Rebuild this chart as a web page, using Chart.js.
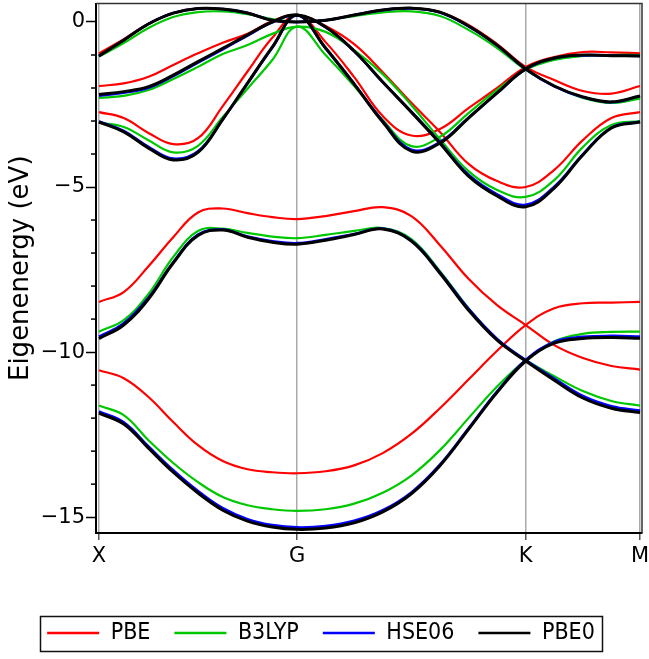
<!DOCTYPE html>
<html>
<head>
<meta charset="utf-8">
<script src="https://cdn.jsdelivr.net/npm/chart.js@4.4.1/dist/chart.umd.min.js"></script>
<style>
  html, body { margin: 0; padding: 0; background: #fff; }
</style>
</head>
<body>
<canvas id="bands" width="649" height="659"></canvas>
<script>
// k-path X - G - K - M (path length units)
const kpath = [0, 0.125, 0.25, 0.375, 0.5, 0.625, 0.75, 0.875, 1,
  1.1443, 1.2887, 1.433, 1.5774, 1.7217, 1.866, 2.0104, 2.1547,
  2.299, 2.4434, 2.5877, 2.7321];
const symPoints = [0, 1, 2.1547, 2.7321];
const symLabels = ['X', 'G', 'K', 'M'];
const yTicks = [-15, -10, -5, 0];

const seriesNames = ['PBE', 'B3LYP', 'HSE06', 'PBE0'];
const seriesColors = ['#ff0000', '#00c800', '#0000ff', '#000000'];
const seriesWidths = [2.2, 2.2, 2.6, 3];

// eigenvalues (eV), one list per band
const pbe = [
  [-0.95, -0.52, -0.05, 0.27, 0.41, 0.39, 0.27, 0.06, 0.0, 0.05, 0.21, 0.36, 0.42, 0.30, -0.09, -0.67, -1.36, -1.76, -2.09, -2.17, -1.94],
  [-1.94, -1.86, -1.66, -1.30, -0.95, -0.63, -0.36, 0.03, 0.21, -0.12, -0.67, -1.52, -2.45, -3.33, -4.30, -4.82, -5.00, -4.48, -3.58, -2.91, -2.73],
  [-2.73, -2.91, -3.36, -3.70, -3.52, -2.55, -1.50, -0.48, 0.21, -0.61, -1.67, -2.85, -3.44, -3.24, -2.61, -2.00, -1.36, -1.06, -0.91, -0.92, -0.95],
  [-8.48, -8.18, -7.40, -6.52, -5.77, -5.65, -5.79, -5.91, -5.97, -5.88, -5.73, -5.61, -5.88, -6.76, -7.78, -8.58, -9.18, -9.79, -10.18, -10.42, -10.53],
  [-10.55, -10.79, -11.36, -12.12, -12.82, -13.30, -13.55, -13.64, -13.67, -13.61, -13.43, -13.06, -12.48, -11.70, -10.83, -9.96, -9.18, -8.67, -8.52, -8.50, -8.48]
];
const b3lyp = [
  [-1.05, -0.64, -0.18, 0.15, 0.30, 0.32, 0.24, 0.09, 0.0, 0.06, 0.18, 0.29, 0.32, 0.18, -0.24, -0.79, -1.45, -1.94, -2.30, -2.45, -2.32],
  [-2.30, -2.24, -2.06, -1.73, -1.36, -0.97, -0.70, -0.36, -0.14, -0.30, -0.85, -1.58, -2.52, -3.55, -4.52, -5.09, -5.30, -4.79, -3.79, -3.12, -3.00],
  [-3.05, -3.18, -3.58, -3.95, -3.75, -2.88, -2.02, -1.15, -0.14, -1.00, -1.94, -2.97, -3.76, -3.48, -2.76, -2.06, -1.45, -1.15, -1.03, -1.00, -1.00],
  [-9.38, -9.03, -8.24, -7.12, -6.33, -6.26, -6.39, -6.50, -6.55, -6.45, -6.33, -6.24, -6.58, -7.55, -8.67, -9.61, -10.24, -10.73, -11.18, -11.48, -11.62],
  [-11.62, -11.91, -12.67, -13.36, -13.94, -14.39, -14.64, -14.76, -14.81, -14.76, -14.59, -14.26, -13.74, -12.97, -12.00, -11.04, -10.24, -9.67, -9.45, -9.39, -9.38]
];
const hse06 = [
  [-1.03, -0.55, -0.06, 0.27, 0.41, 0.39, 0.27, 0.05, 0.0, 0.05, 0.21, 0.36, 0.41, 0.29, -0.13, -0.71, -1.43, -1.95, -2.28, -2.43, -2.25],
  [-2.23, -2.14, -1.99, -1.64, -1.23, -0.83, -0.41, -0.01, 0.20, -0.16, -0.89, -1.82, -2.72, -3.65, -4.63, -5.22, -5.54, -4.99, -4.01, -3.20, -3.02],
  [-3.01, -3.30, -3.78, -4.14, -3.92, -2.95, -1.86, -0.78, 0.20, -0.80, -1.88, -3.00, -3.87, -3.64, -2.90, -2.15, -1.43, -1.10, -1.01, -1.02, -1.03],
  [-9.53, -9.13, -8.35, -7.28, -6.44, -6.29, -6.50, -6.64, -6.70, -6.58, -6.42, -6.26, -6.62, -7.58, -8.69, -9.60, -10.24, -10.80, -11.33, -11.64, -11.77],
  [-11.80, -12.13, -12.86, -13.58, -14.21, -14.73, -15.06, -15.24, -15.31, -15.27, -15.11, -14.79, -14.25, -13.41, -12.31, -11.19, -10.24, -9.69, -9.54, -9.51, -9.53]
];
const pbe0 = [
  [-1.03, -0.55, -0.06, 0.27, 0.41, 0.39, 0.27, 0.05, 0.0, 0.05, 0.21, 0.36, 0.42, 0.30, -0.12, -0.70, -1.42, -1.94, -2.27, -2.42, -2.24],
  [-2.20, -2.11, -1.96, -1.61, -1.20, -0.80, -0.39, 0.0, 0.21, -0.15, -0.88, -1.82, -2.73, -3.67, -4.67, -5.27, -5.60, -5.03, -4.03, -3.21, -3.03],
  [-3.03, -3.33, -3.82, -4.18, -3.95, -2.95, -1.85, -0.76, 0.21, -0.79, -1.88, -3.03, -3.91, -3.67, -2.91, -2.15, -1.42, -1.09, -1.00, -1.02, -1.03],
  [-9.59, -9.18, -8.39, -7.30, -6.47, -6.30, -6.52, -6.67, -6.73, -6.61, -6.44, -6.27, -6.64, -7.61, -8.73, -9.64, -10.27, -10.85, -11.39, -11.70, -11.83],
  [-11.85, -12.18, -12.91, -13.64, -14.27, -14.79, -15.12, -15.30, -15.37, -15.33, -15.17, -14.84, -14.29, -13.44, -12.34, -11.22, -10.27, -9.73, -9.59, -9.56, -9.58]
];

const allSeries = [pbe, b3lyp, hse06, pbe0];
const datasets = [];
allSeries.forEach((bands, s) => {
  bands.forEach((band, b) => {
    datasets.push({
      label: seriesNames[s],
      band: b,
      data: kpath.map((k, i) => ({ x: k, y: band[i] })),
      borderColor: seriesColors[s],
      backgroundColor: seriesColors[s],
      borderWidth: seriesWidths[s],
      order: allSeries.length - s,   // black drawn on top
      pointRadius: 0,
      tension: 0.4,
      fill: false
    });
  });
});

const sans = "'DejaVu Sans', Verdana, sans-serif";

// minor y ticks, top/right frame and the legend box
const framePlugin = {
  id: 'framePlugin',
  afterDraw(chart) {
    const { ctx, chartArea: a, scales: { y } } = chart;
    ctx.save();
    ctx.strokeStyle = '#000';
    ctx.lineWidth = 1.5;
    for (let v = Math.ceil(y.min); v <= Math.floor(y.max); v++) {
      if (v % 5 === 0) continue;
      const py = y.getPixelForValue(v);
      ctx.beginPath();
      ctx.moveTo(a.left - 5, py);
      ctx.lineTo(a.left, py);
      ctx.stroke();
    }
    ctx.strokeStyle = '#333';
    ctx.beginPath();
    ctx.moveTo(a.left, a.top);
    ctx.lineTo(a.right, a.top);
    ctx.lineTo(a.right, a.bottom);
    ctx.stroke();

    const hb = chart.legend.legendHitBoxes;
    if (hb && hb.length) {
      const l = Math.min(...hb.map(h => h.left)) - 7;
      const r = Math.max(...hb.map(h => h.left + h.width)) + 7;
      const t = Math.min(...hb.map(h => h.top)) - 5.5;
      const bt = Math.max(...hb.map(h => h.top + h.height)) + 6.5;
      ctx.strokeStyle = '#111';
      ctx.lineWidth = 1.5;
      ctx.strokeRect(Math.round(l) + 0.5, Math.round(t) + 0.5, Math.round(r - l), Math.round(bt - t));
    }
    ctx.restore();
  }
};

new Chart(document.getElementById('bands'), {
  type: 'line',
  data: { datasets },
  plugins: [framePlugin],
  options: {
    responsive: false,
    animation: false,
    layout: { padding: { left: 0, right: 7, top: 3.5, bottom: 4.5 } },
    plugins: {
      tooltip: { enabled: false },
      legend: {
        position: 'bottom',
        labels: {
          boxWidth: 52,
          boxHeight: 2.5,
          padding: 24,
          color: '#000',
          font: { family: "'DejaVu Sans Condensed', 'DejaVu Sans', sans-serif", size: 23 },
          generateLabels: chart => chart.data.datasets
            .map((ds, i) => ({
              text: ds.label,
              fillStyle: ds.borderColor,
              strokeStyle: ds.borderColor,
              lineWidth: 0,
              hidden: false,
              datasetIndex: i
            }))
            .filter(item => chart.data.datasets[item.datasetIndex].band === 0)
        }
      }
    },
    scales: {
      x: {
        type: 'linear',
        min: -0.015,
        max: 2.742,
        afterBuildTicks: scale => { scale.ticks = symPoints.map(v => ({ value: v })); },
        afterFit: scale => { scale.height = 64.5; scale.paddingLeft = 0; scale.paddingRight = 0; },
        ticks: {
          autoSkip: false,
          maxRotation: 0,
          padding: 4,
          color: '#000',
          font: { family: sans, size: 21 },
          callback: value => symLabels[symPoints.indexOf(value)]
        },
        grid: { color: '#aaaaaa', lineWidth: 1.5, tickColor: '#555', tickLength: 7 },
        border: { color: '#000', width: 2 }
      },
      y: {
        min: -15.48,
        max: 0.56,
        afterBuildTicks: scale => { scale.ticks = yTicks.map(v => ({ value: v })); },
        afterFit: scale => { scale.width = 96; scale.paddingTop = 0; scale.paddingBottom = 0; },
        ticks: {
          padding: 1,
          color: '#000',
          font: { family: sans, size: 21 },
          callback: value => value < 0 ? '\u2212' + Math.abs(value) : String(value)
        },
        grid: { drawOnChartArea: false, tickLength: 10, tickColor: '#000', tickWidth: 1.5 },
        border: { color: '#000', width: 2 },
        title: {
          display: true,
          text: 'Eigenenergy (eV)',
          color: '#000',
          font: { family: sans, size: 26 },
          padding: { top: 6, bottom: 0 }
        }
      }
    }
  }
});
</script>
</body>
</html>
